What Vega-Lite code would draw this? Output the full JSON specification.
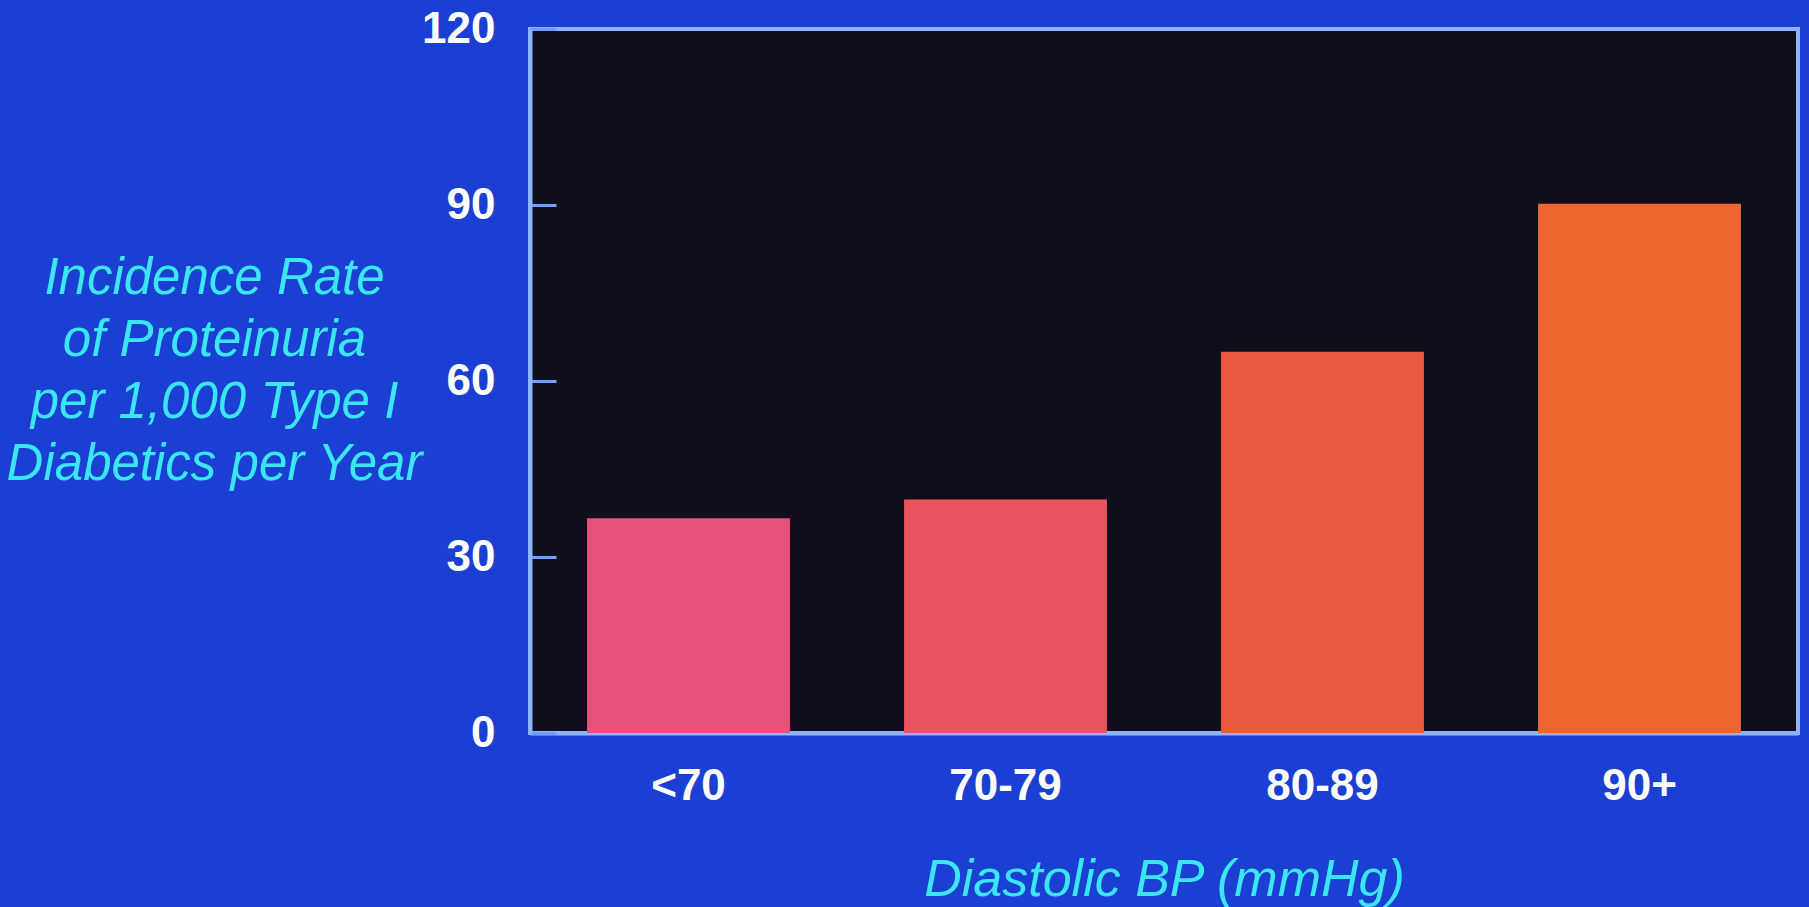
{
  "$schema": "https://vega.github.io/schema/vega-lite/v6.json",
  "autosize": {"type": "none"},
  "padding": {"left": 530, "top": 29, "right": 11, "bottom": 174},
  "width": 1268,
  "height": 704,
  "background": "#1b3fd2",
  "view": {"fill": "#100e1a", "stroke": "#8fb4ff", "strokeWidth": 4},
  "data": {"values": [
    {"bp": "<70", "rate": 36.6, "c": "#e8527a"},
    {"bp": "70-79", "rate": 39.8, "c": "#ea5360"},
    {"bp": "80-89", "rate": 65, "c": "#ea5a42"},
    {"bp": "90+", "rate": 90.2, "c": "#ef6530"}
  ]},
  "mark": {"type": "bar"},
  "encoding": {
    "x": {
      "field": "bp", "type": "nominal", "sort": null,
      "scale": {"paddingInner": 0.36, "paddingOuter": 0.18},
      "axis": {
        "title": "Diastolic BP (mmHg)",
        "titleFont": "Liberation Sans", "titleFontSize": 52, "titleFontStyle": "italic", "titleFontWeight": "normal",
        "titleColor": "#3ae6f2", "titlePadding": 46,
        "labelFont": "Liberation Sans", "labelFontSize": 44, "labelColor": "#ffffff", "labelFontWeight": "bold",
        "labelAngle": 0, "labelPadding": 31,
        "ticks": false, "domain": true, "domainColor": "#8fb4ff", "domainWidth": 4, "grid": false
      }
    },
    "y": {
      "field": "rate", "type": "quantitative",
      "scale": {"domain": [0, 120], "nice": false},
      "axis": {
        "values": [0, 30, 60, 90, 120],
        "title": ["Incidence Rate", "of Proteinuria", "per 1,000 Type I", "Diabetics per Year"],
        "titleAngle": 0, "titleX": -316, "titleY": 249, "titleAlign": "center", "titleBaseline": "middle",
        "titleLineHeight": 62,
        "titleFont": "Liberation Sans", "titleFontSize": 51, "titleFontStyle": "italic", "titleFontWeight": "normal",
        "titleColor": "#3ae6f2",
        "labelFont": "Liberation Sans", "labelFontSize": 44, "labelColor": "#ffffff", "labelFontWeight": "bold",
        "labelPadding": 61,
        "ticks": true, "tickSize": -26, "tickColor": "#6f9eff", "tickWidth": 3,
        "domain": true, "domainColor": "#8fb4ff", "domainWidth": 4, "grid": false
      }
    },
    "color": {"field": "c", "type": "nominal", "scale": null, "legend": null}
  }
}
